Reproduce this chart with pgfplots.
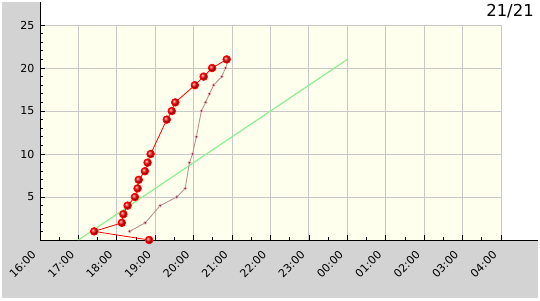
\documentclass[border=0pt]{standalone}
\usepackage{fontspec}
\setmainfont{DejaVu Sans}
\usepackage{pgfplots}
\pgfplotsset{compat=1.18}
\definecolor{bgplot}{RGB}{255,255,238}
\definecolor{gridc}{RGB}{200,200,200}
\definecolor{panel}{RGB}{211,211,211}
\definecolor{lgreen}{RGB}{144,238,144}
\definecolor{rosy}{RGB}{188,143,143}
\definecolor{dotc}{RGB}{110,40,80}
\begin{document}
\begin{tikzpicture}[x=1pt,y=1pt]
\useasboundingbox (0,0) rectangle (540,300);
\fill[white] (0,0) rectangle (540,300);
\fill[panel] (2,2) rectangle (40,298);
\fill[panel] (2,2) rectangle (538,60);
\begin{axis}[
  at={(40pt,60pt)}, anchor=south west,
  scale only axis, width=461pt, height=215pt,
  xmin=0, xmax=12, ymin=0, ymax=25,
  clip mode=individual,
  axis lines=left, axis line style={-, black, line width=0.8pt},
  axis background/.style={fill=bgplot},
  xtick={0,...,12},
  xticklabels={16:00,17:00,18:00,19:00,20:00,21:00,22:00,23:00,00:00,01:00,02:00,03:00,04:00},
  minor xtick={0.5,1.5,...,11.5},
  ytick={5,10,15,20,25},
  minor ytick={1,2,3,4,6,7,8,9,11,12,13,14,16,17,18,19,21,22,23,24},
  tick align=inside,
  major tick length=5pt, minor tick length=3pt,
  tick style={black, line width=0.8pt},
  grid=major, major grid style={gridc, line width=1pt},
  /pgf/number format/assume math mode=true,
  ticklabel style={font=\fontsize{11}{12}\selectfont},
  xticklabel style={rotate=45, anchor=north east, xshift=-10pt, yshift=3pt},
  yticklabel style={xshift=-2pt},
]
\addplot[lgreen, line width=1.2pt, mark=none] coordinates {(1,0) (8,21)};
\addplot[rosy, line width=0.9pt, mark=*, mark size=1.6pt, mark options={fill=dotc, draw=pink, line width=0.5pt}] coordinates {
(2.33,1) (2.74,2) (3.13,4) (3.56,5) (3.78,6) (3.89,9) (3.97,10) (4.07,12) (4.20,15) (4.31,16) (4.41,17) (4.52,18) (4.73,19) (4.83,20) (4.91,21)};
\addplot[red, line width=0.8pt, mark=ball, mark size=3.8pt, mark options={ball color=red}] coordinates {
(2.84,0) (1.41,1) (2.13,2) (2.17,3) (2.28,4) (2.47,5) (2.54,6) (2.57,7) (2.73,8) (2.80,9) (2.88,10) (3.30,14) (3.43,15) (3.52,16) (4.03,18) (4.26,19) (4.48,20) (4.86,21)};
\end{axis}
\draw[black, line width=0.8pt] (40,240) -- (40,298);
\draw[black, line width=0.8pt] (500,60) -- (538,60);
\node[anchor=base east, font=\fontsize{16.5}{18}\selectfont, inner sep=0pt] at (534,283) {21/21};
\end{tikzpicture}
\end{document}
